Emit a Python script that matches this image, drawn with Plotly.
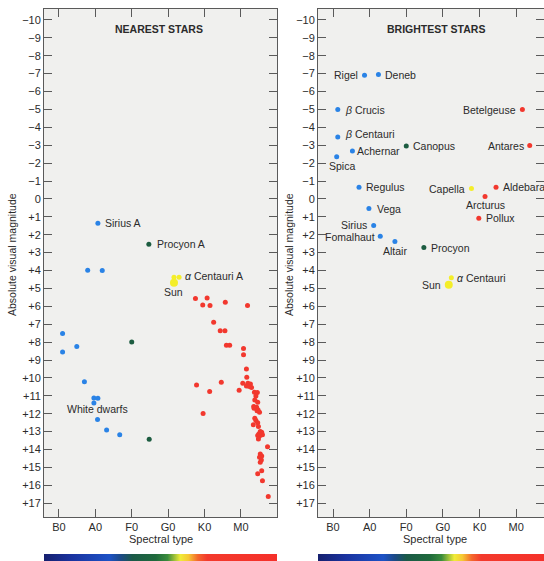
import plotly.graph_objects as go

# ---------------------------------------------------------------
# Spectral classes are placed on a numeric scale: B0=0, A0=1, F0=2,
# G0=3, K0=4, M0=5. Magnitudes are absolute visual magnitudes.
# ---------------------------------------------------------------
spectral_ticks = [0, 1, 2, 3, 4, 5]
spectral_labels = ["B0", "A0", "F0", "G0", "K0", "M0"]
mag_ticks = list(range(-10, 18))
mag_labels = [("\u2212%d" % -m) if m < 0 else ("+%d" % m if m > 0 else "0") for m in mag_ticks]

# ---- Nearest stars -------------------------------------------
near_blue_x = [1.07, 0.79, 1.19, 0.10, 0.10, 0.49, 0.70, 0.96, 1.07, 0.96, 1.06, 1.31, 1.67]
near_blue_y = [1.36, 3.98, 4.00, 7.52, 8.55, 8.25, 10.22, 11.12, 11.14, 11.40, 12.33, 12.91, 13.18]

near_green_x = [2.47, 2.00, 2.48]
near_green_y = [2.53, 7.99, 13.43]

near_yellow_x = [3.16, 3.30]
near_yellow_y = [4.37, 4.37]

near_red_x = [3.75, 3.95, 4.07, 4.15, 4.57, 5.18, 4.25, 4.43, 4.56, 4.60, 4.69, 5.07, 5.07,
              5.15, 5.16, 3.78, 3.96, 4.14, 4.46,
              5.05, 5.19, 5.26, 5.15, 5.23, 5.29, 4.95, 5.37, 5.45, 5.41, 5.38, 5.46,
              5.35, 5.43, 5.36, 5.47, 5.44, 5.51, 5.38, 5.41, 5.46, 5.34, 5.48, 5.53,
              5.57, 5.59, 5.49, 5.46, 5.51, 5.48, 5.73, 5.53, 5.57, 5.51, 5.56, 5.53,
              5.57, 5.46, 5.59, 5.75]
near_red_y = [5.57, 5.92, 5.53, 5.96, 5.77, 5.96, 6.89, 7.36, 7.36, 8.18, 8.18, 8.36, 8.70,
              9.50, 9.96, 10.39, 11.99, 10.76, 10.24,
              10.30, 10.30, 10.34, 10.45, 10.48, 10.54, 10.69, 10.80, 10.82, 11.01, 11.23, 11.36,
              11.60, 11.64, 11.69, 11.79, 11.84, 11.92, 12.25, 12.38, 12.50, 12.61, 12.72, 13.00,
              13.03, 13.18, 13.13, 13.22, 13.24, 13.41, 13.84, 14.25, 14.36, 14.43, 14.58, 14.71,
              15.18, 15.36, 15.74, 16.63]

sun_x = 3.16
sun_y_near = 4.69
sun_y_bright = 4.80

# ---- Brightest stars -----------------------------------------
bright_names = ["Rigel", "Deneb", "\u03b2 Crucis", "\u03b2 Centauri", "Achernar", "Spica",
                "Canopus", "Betelgeuse", "Antares", "Regulus", "Capella", "Aldebaran",
                "Arcturus", "Vega", "Pollux", "Sirius", "Fomalhaut", "Altair", "Procyon",
                "\u03b1 Centauri"]
bright_x = [0.86, 1.24, 0.13, 0.13, 0.53, 0.10, 2.00, 5.17, 5.37, 0.71, 3.78, 4.45,
            4.15, 0.98, 3.98, 1.11, 1.29, 1.69, 2.48, 3.23]
bright_y = [-6.91, -6.95, -4.99, -3.46, -2.68, -2.36, -2.96, -4.99, -2.98, -0.65, -0.58, -0.65,
            -0.13, 0.54, 1.08, 1.49, 2.09, 2.38, 2.72, 4.41]
bright_group = ["blue", "blue", "blue", "blue", "blue", "blue", "green", "red", "red", "blue",
                "yellow", "red", "red", "blue", "red", "blue", "blue", "blue", "green", "yellow"]

# ---- styling -------------------------------------------------
COL = {"blue": "#2a83e6", "green": "#1c5c40", "yellow": "#f4ee2a", "red": "#f2382e"}
TEXT = "#2b2b2b"
AXIS = "#5a5a5a"
PANEL = "#f0f0ee"
FONT = "Liberation Sans, Arial, sans-serif"
LABEL_SIZE = 10.5

# label placement: (x shift px, y shift px, anchor)
bright_label_pos = {
    "Rigel": (-5, 0, "right"), "Deneb": (5, 0, "left"), "\u03b2 Crucis": (5, 0, "left"),
    "\u03b2 Centauri": (5, 3, "left"), "Achernar": (3, 0, "left"), "Spica": (5, -9, "center"),
    "Canopus": (5, 0, "left"), "Betelgeuse": (-4, 0, "right"), "Antares": (-4, 0, "right"),
    "Regulus": (5, 0, "left"), "Capella": (-4, 0, "right"), "Aldebaran": (5, 0, "left"),
    "Arcturus": (0, -8, "center"), "Vega": (6, 0, "left"), "Pollux": (5, 0, "left"),
    "Sirius": (-5, 1, "right"), "Fomalhaut": (-3, -1, "right"), "Altair": (0, -9, "center"),
    "Procyon": (5, 0, "left"), "\u03b1 Centauri": (4, 0, "left"),
}

W, H = 544, 561
L_DOM = [44 / W, 277 / W]
R_DOM = [318 / W, 1.0]
Y_DOM = [(H - 517) / H, (H - 9) / H]
BAR_DOM = [0, 7 / H]

fig = go.Figure()

def dots(x, y, color, size, xa, ya):
    fig.add_trace(go.Scatter(x=x, y=y, mode="markers", xaxis=xa, yaxis=ya,
                             marker=dict(color=color, size=size, line=dict(width=0)),
                             hoverinfo="skip", showlegend=False, cliponaxis=False))

# left panel
dots(near_blue_x, near_blue_y, COL["blue"], 5, "x", "y")
dots(near_green_x, near_green_y, COL["green"], 5, "x", "y")
dots(near_red_x, near_red_y, COL["red"], 5, "x", "y")
dots(near_yellow_x, near_yellow_y, COL["yellow"], 5, "x", "y")
dots([sun_x], [sun_y_near], COL["yellow"], 8, "x", "y")

# right panel
for g in ["blue", "green", "red", "yellow"]:
    xs = [x for x, gg in zip(bright_x, bright_group) if gg == g]
    ys = [y for y, gg in zip(bright_y, bright_group) if gg == g]
    dots(xs, ys, COL[g], 5, "x2", "y2")
dots([sun_x], [sun_y_bright], COL["yellow"], 8, "x2", "y2")

# spectral colour strips under each panel
strip_scale = [
    [0.00, "#16206e"], [0.12, "#1a33a0"], [0.28, "#1d52c6"], [0.33, "#1c4a86"],
    [0.38, "#1b5a48"], [0.48, "#1f6a3c"], [0.53, "#3a8c3c"], [0.585, "#f0ec38"],
    [0.62, "#f6c834"], [0.66, "#f4682c"], [0.70, "#f33a2c"], [1.00, "#f5302a"],
]
for xa, ya in [("x3", "y3"), ("x4", "y4")]:
    fig.add_trace(go.Scatter(x=[0, 1, 1, 0, 0], y=[0, 0, 1, 1, 0], xaxis=xa, yaxis=ya,
                             mode="lines", fill="toself", line=dict(width=0),
                             fillgradient=dict(type="horizontal", colorscale=strip_scale),
                             hoverinfo="skip", showlegend=False))

ax_common = dict(showline=True, linecolor=AXIS, linewidth=1, mirror="ticks",
                 ticks="inside", ticklen=8, tickwidth=1, tickcolor=AXIS,
                 showgrid=False, zeroline=False, automargin=False,
                 tickfont=dict(family=FONT, size=11, color=TEXT), fixedrange=True)

fig.update_layout(
    width=W, height=H,
    margin=dict(l=0, r=0, t=0, b=0),
    paper_bgcolor="white",
    plot_bgcolor=PANEL,
    font=dict(family=FONT, size=11, color=TEXT),
    xaxis=dict(domain=L_DOM, range=[-0.41, 5.99], anchor="y",
               tickvals=spectral_ticks, ticktext=spectral_labels, **ax_common),
    yaxis=dict(domain=Y_DOM, range=[17.77, -10.61], anchor="x",
               tickvals=mag_ticks, ticktext=mag_labels, **ax_common),
    xaxis2=dict(domain=R_DOM, range=[-0.41, 5.76], anchor="y2",
                tickvals=spectral_ticks, ticktext=spectral_labels, **ax_common),
    yaxis2=dict(domain=Y_DOM, range=[17.77, -10.61], anchor="x2",
                tickvals=mag_ticks, ticktext=mag_labels, **ax_common),
    xaxis3=dict(domain=L_DOM, range=[0, 1], anchor="y3", visible=False, fixedrange=True),
    yaxis3=dict(domain=BAR_DOM, range=[0, 1], anchor="x3", visible=False, fixedrange=True),
    xaxis4=dict(domain=R_DOM, range=[0, 0.97], anchor="y4", visible=False, fixedrange=True),
    yaxis4=dict(domain=BAR_DOM, range=[0, 1], anchor="x4", visible=False, fixedrange=True),
)

ann = []

def label(text, x, y, xref, yref, dx=0, dy=0, anchor="left", size=LABEL_SIZE, angle=0):
    ann.append(dict(text=text, x=x, y=y, xref=xref, yref=yref, xshift=dx, yshift=dy,
                    xanchor=anchor, yanchor="middle", showarrow=False,
                    font=dict(family=FONT, size=size, color=TEXT), textangle=angle))

# left panel labels
label("Sirius A", near_blue_x[0], near_blue_y[0], "x", "y", 5, 0)
label("Procyon A", near_green_x[0], near_green_y[0], "x", "y", 6, 0)
label("<i>\u03b1</i> Centauri A", near_yellow_x[1], near_yellow_y[1], "x", "y", 4, 1)
label("Sun", sun_x, sun_y_near, "x", "y", 0, -9, "center")
label("White dwarfs", 1.06, 11.73, "x", "y", 0, 0, "center")

# right panel labels
for name, x, y in zip(bright_names, bright_x, bright_y):
    dx, dy, anc = bright_label_pos[name]
    txt = name
    if name[0] in "\u03b1\u03b2":
        txt = "<i>" + name[0] + "</i>" + name[1:]
    label(txt, x, y, "x2", "y2", dx, dy, anc)
label("Sun", sun_x, sun_y_bright, "x2", "y2", -6, 0, "right")

# panel titles
for txt, xc in [("<b>NEAREST STARS</b>", 158.5), ("<b>BRIGHTEST STARS</b>", 435.5)]:
    label(txt, xc / W, 1 - 29 / H, "paper", "paper", 0, 0, "center")

# axis titles
for xc in [160.5, 434.5]:
    label("Spectral type", xc / W, 1 - 539 / H, "paper", "paper", 0, 0, "center", size=11)
for xc in [12, 289]:
    label("Absolute visual magnitude", xc / W, 1 - 255 / H, "paper", "paper", 0, 0,
          "center", size=10.5, angle=-90)

fig.update_layout(annotations=ann)
fig.write_html("out.html")
